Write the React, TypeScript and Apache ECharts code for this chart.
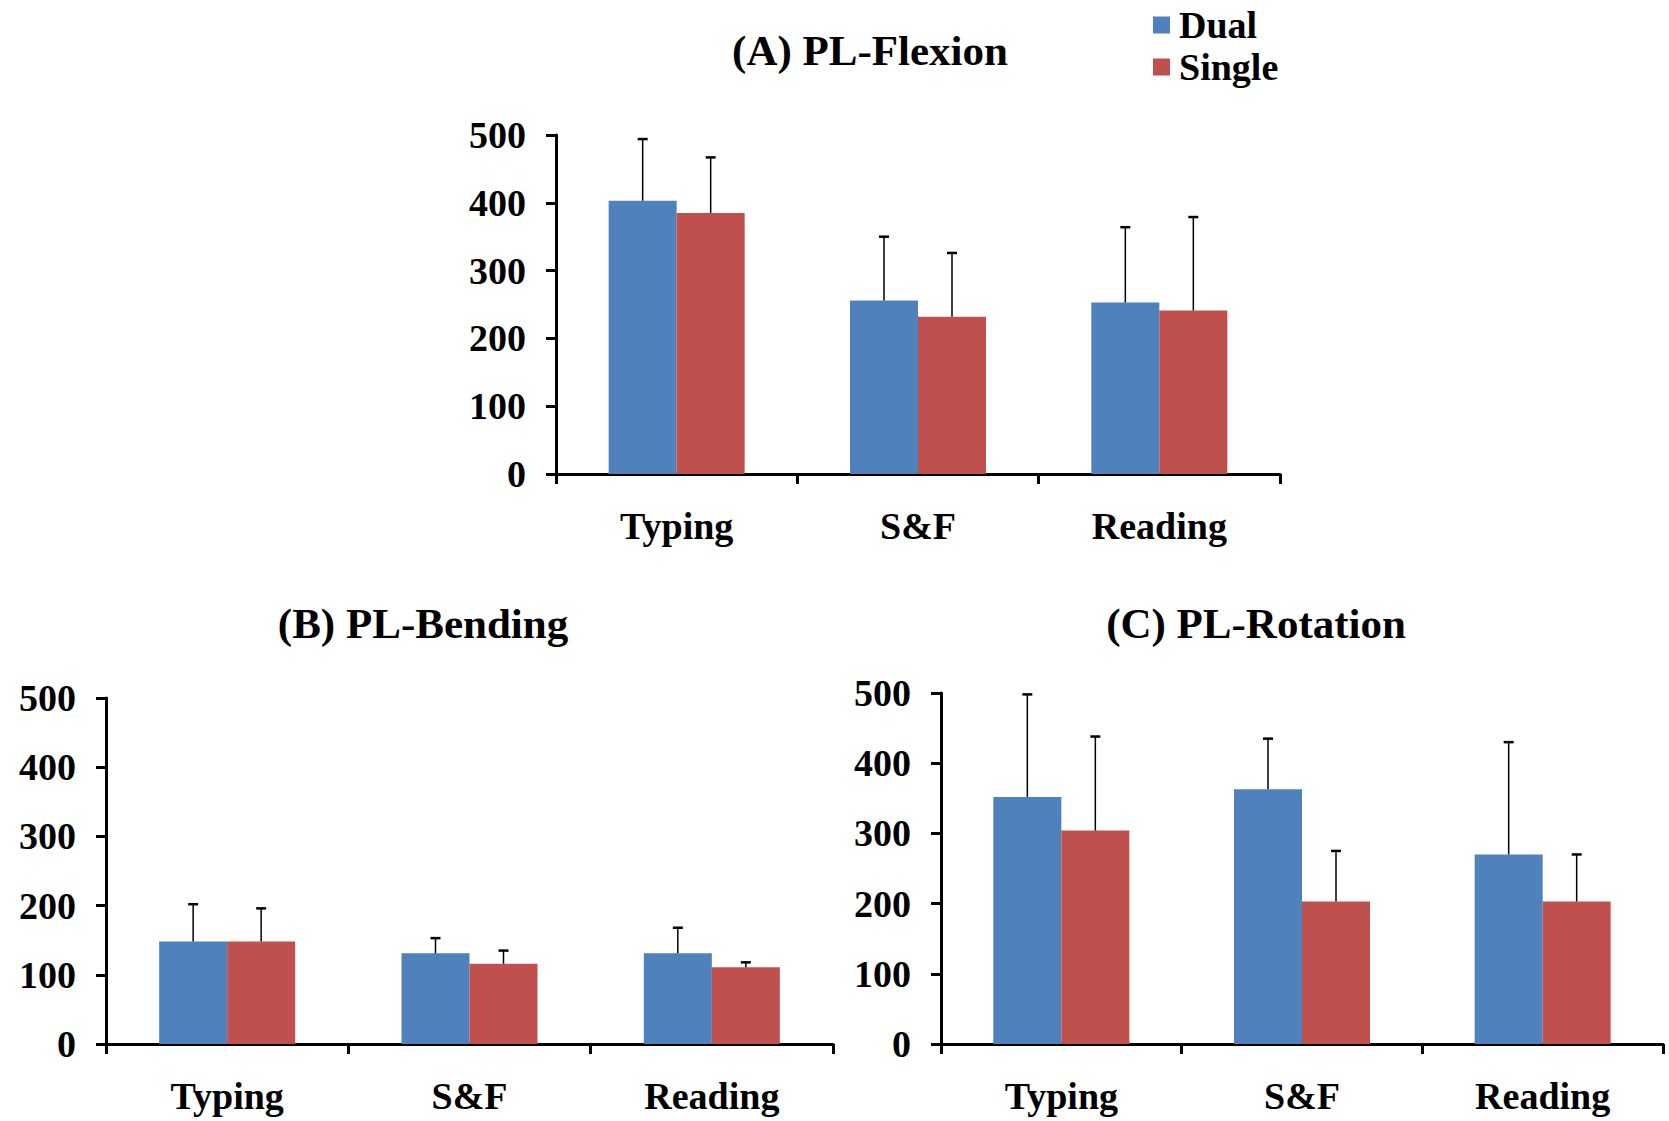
import React, { useEffect, useRef } from "react";
import * as echarts from "echarts";

const categories = ["Typing", "S&F", "Reading"];
const yTicks = [0, 100, 200, 300, 400, 500];

const flexDual = [403, 256, 253];
const flexDualErr = [91, 94, 111];
const flexSingle = [385, 232, 241];
const flexSingleErr = [82, 94, 138];

const bendDual = [148, 131, 131];
const bendDualErr = [54, 22, 37];
const bendSingle = [148, 116, 111];
const bendSingleErr = [48, 19, 7];

const rotDual = [352, 363, 270];
const rotDualErr = [146, 72, 160];
const rotSingle = [304, 203, 203];
const rotSingleErr = [134, 72, 67];

const titles = ["(A) PL-Flexion", "(B) PL-Bending", "(C) PL-Rotation"];
const seriesNames = ["Dual", "Single"];

const BLUE = "#4F81BD";
const RED = "#C0504D";
const FONT = "Liberation Serif";
const BAR_W = 68;

export default function App() {
  const ref = useRef<HTMLDivElement>(null);
  useEffect(() => {
    document.body.style.margin = "0";
    const chart = echarts.init(ref.current!, null, { renderer: "svg" });

    const grids = [
      { left: 556, top: 135, width: 724, height: 339 },
      { left: 106, top: 698, width: 727, height: 346 },
      { left: 941, top: 693, width: 722, height: 351 },
    ];
    const panels = [
      [flexDual, flexDualErr, flexSingle, flexSingleErr],
      [bendDual, bendDualErr, bendSingle, bendSingleErr],
      [rotDual, rotDualErr, rotSingle, rotSingleErr],
    ];

    const xAxes = grids.map((_, i) => ({
      type: "category",
      gridIndex: i,
      data: categories,
      boundaryGap: true,
      axisLine: { show: true, lineStyle: { color: "#000", width: 3 } },
      axisTick: { show: true, alignWithLabel: false, interval: 0, length: 10, lineStyle: { color: "#000", width: 3 } },
      axisLabel: { color: "#000", fontFamily: FONT, fontWeight: "bold", fontSize: 38, margin: 33, interval: 0 },
    }));
    const yAxes = grids.map((_, i) => ({
      type: "value",
      gridIndex: i,
      min: yTicks[0],
      max: yTicks[yTicks.length - 1],
      interval: 100,
      axisLine: { show: true, lineStyle: { color: "#000", width: 3 } },
      axisTick: { show: true, length: 10, lineStyle: { color: "#000", width: 3 } },
      splitLine: { show: false },
      axisLabel: { color: "#000", fontFamily: FONT, fontWeight: "bold", fontSize: 38, margin: 30 },
    }));

    const errRender = (offset: number) => (params: any, api: any) => {
      const x = api.value(0);
      const y = api.value(1);
      const e = api.value(2);
      const base = api.coord([x, y]);
      const top = api.coord([x, y + e]);
      const cx = base[0] + offset;
      return {
        type: "group",
        children: [
          { type: "line", shape: { x1: cx, y1: base[1], x2: cx, y2: top[1] }, style: { stroke: "#000", lineWidth: 1.5 } },
          { type: "line", shape: { x1: cx - 5, y1: top[1], x2: cx + 5, y2: top[1] }, style: { stroke: "#000", lineWidth: 2.5 } },
        ],
      };
    };

    const series: any[] = [];
    panels.forEach((p, i) => {
      const [d, de, s, se] = p;
      series.push({
        name: seriesNames[0], type: "bar", xAxisIndex: i, yAxisIndex: i, data: d,
        barWidth: BAR_W, barGap: "0%", itemStyle: { color: BLUE },
      });
      series.push({
        name: seriesNames[1], type: "bar", xAxisIndex: i, yAxisIndex: i, data: s,
        barWidth: BAR_W, barGap: "0%", itemStyle: { color: RED },
      });
      series.push({
        name: seriesNames[0], type: "custom", xAxisIndex: i, yAxisIndex: i, z: 10,
        data: categories.map((_, k) => [k, d[k], de[k]]),
        encode: { x: 0, y: 1 },
        renderItem: errRender(-BAR_W / 2),
      });
      series.push({
        name: seriesNames[1], type: "custom", xAxisIndex: i, yAxisIndex: i, z: 10,
        data: categories.map((_, k) => [k, s[k], se[k]]),
        encode: { x: 0, y: 1 },
        renderItem: errRender(BAR_W / 2),
      });
    });

    const titleCenters = [
      [870, 50],
      [423, 623],
      [1256, 623],
    ];

    chart.setOption({
      animation: false,
      backgroundColor: "#fff",
      grid: grids,
      xAxis: xAxes,
      yAxis: yAxes,
      series,
      legend: {
        data: seriesNames,
        orient: "vertical",
        left: 1148,
        top: 1,
        itemWidth: 17,
        itemHeight: 17,
        itemGap: 4,
        icon: "rect",
        textStyle: { color: "#000", fontFamily: FONT, fontWeight: "bold", fontSize: 38, padding: [0, 0, 0, 4] },
      },
      graphic: titles.map((t, i) => ({
        type: "text",
        x: titleCenters[i][0],
        y: titleCenters[i][1],
        style: {
          text: t,
          fill: "#000",
          font: `bold 43px "${FONT}"`,
          textAlign: "center",
          textVerticalAlign: "middle",
        },
      })),
    });
    return () => chart.dispose();
  }, []);
  return <div ref={ref} style={{ width: 1669, height: 1121 }} />;
}
